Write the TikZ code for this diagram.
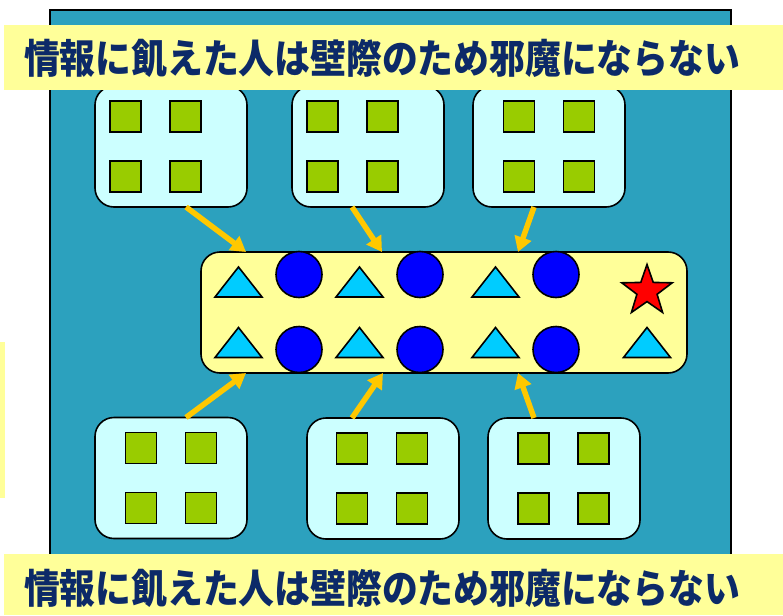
\documentclass[tikz,border=0pt]{standalone}
\usepackage{fontspec}
\newfontfamily\jpfont{Noto Sans CJK JP}
\usepackage{tikz}
\usetikzlibrary{arrows.meta,positioning,shapes.geometric}
\definecolor{sea}{HTML}{2CA1BE}
\definecolor{lemon}{HTML}{FFFF99}
\definecolor{ice}{HTML}{CCFFFF}
\definecolor{leaf}{HTML}{99CC00}
\definecolor{sky}{HTML}{00CCFF}
\definecolor{gold}{HTML}{FFC800}
\definecolor{ink}{HTML}{0C2A68}

\begin{document}
\begin{tikzpicture}[
  x=1pt, y=-1pt,
  every node/.style={inner sep=0pt, outer sep=0pt},
  group/.style={draw, line width=1.6pt, fill=ice, rounded corners=19pt, minimum width=152pt, minimum height=121pt},
  cell/.style={draw, line width=1.6pt, fill=leaf, minimum size=31pt},
  dot/.style={circle, draw, line width=1.6pt, fill=blue, minimum size=46pt},
  tri/.style={draw, line width=1.6pt, fill=sky, line join=miter},
  feed/.style={draw=gold, line width=5.5pt, -{Triangle[length=15pt,width=17pt]}},
  banner/.style={fill=lemon, anchor=north west},
  caption/.style={text=ink, font=\jpfont\bfseries\fontsize{35.8}{40}\selectfont}
]
  \useasboundingbox (0,0) rectangle (783,615);

  \node[draw, line width=1.6pt, fill=sea, anchor=north west, minimum width=681pt, minimum height=560pt] (frame) at (50,10) {};

  \node[group] (box1) at (171,146.5) {};
  \node[group] (box2) at (368,146.5) {};
  \node[group] (box3) at (549,146.5) {};
  \node[group] (box4) at (171,478) {};
  \node[group] (box5) at (383,478.5) {};
  \node[group] (box6) at (564,478.5) {};

  \foreach \b/\dx in {box1/-15.5, box2/-15.5, box3/0, box4/0, box5/-1, box6/-0.5}
    \foreach \sx/\sy [count=\k] in {-30/-30, 30/-30, -30/30, 30/30}
      \node[cell] (\b-c\k) at ([shift={(\sx+\dx,\sy)}]\b.center) {};

  \node[draw, line width=1.6pt, fill=lemon, rounded corners=19pt, minimum width=486pt, minimum height=121pt] (pool) at (444,312.5) {};

  \foreach \px/\py in {238.5/282, 359.5/282, 495.5/282, 238.5/342.5, 359.5/342.5, 495.5/342.5, 647/342.5}
    \draw[tri] (\px-23.5,\py+15) -- (\px+23.5,\py+15) -- (\px,\py-15) -- cycle;

  \node[dot] (d1) at (299,274.5) {};
  \node[dot] (d2) at (420,274.5) {};
  \node[dot] (d3) at (556,274.5) {};
  \node[dot] (d4) at (299,349.5) {};
  \node[dot] (d5) at (420,349.5) {};
  \node[dot] (d6) at (556,349.5) {};

  \node[star, star points=5, star point ratio=2.5, draw, line width=1.6pt, fill=red, minimum size=53pt] (goal) at (647,291) {};

  \draw[feed] ([xshift=15pt]box1.south) -- ([xshift=-198pt]pool.north);
  \draw[feed] ([xshift=-16pt]box2.south) -- ([xshift=-62pt]pool.north);
  \draw[feed] ([xshift=-15pt]box3.south) -- ([xshift=74pt]pool.north);
  \draw[feed] ([xshift=15pt]box4.north) -- ([xshift=-198pt]pool.south);
  \draw[feed] ([xshift=-31pt]box5.north) -- ([xshift=-61pt]pool.south);
  \draw[feed] ([xshift=-30pt]box6.north) -- ([xshift=74pt]pool.south);

  \node[banner, minimum width=779pt, minimum height=65pt] (topbar) at (4,25) {};
  \node[banner, minimum width=779pt, minimum height=61pt] (bottombar) at (4,554) {};
  \node[banner, minimum width=5pt, minimum height=156pt] (strip) at (0,342) {};

  \node[caption] (toptext) at (382,58) {\scalebox{1}[1.12]{情報に飢えた人は壁際のため邪魔にならない}};
  \node[caption] (bottomtext) at (382,588) {\scalebox{1}[1.12]{情報に飢えた人は壁際のため邪魔にならない}};
\end{tikzpicture}
\end{document}
